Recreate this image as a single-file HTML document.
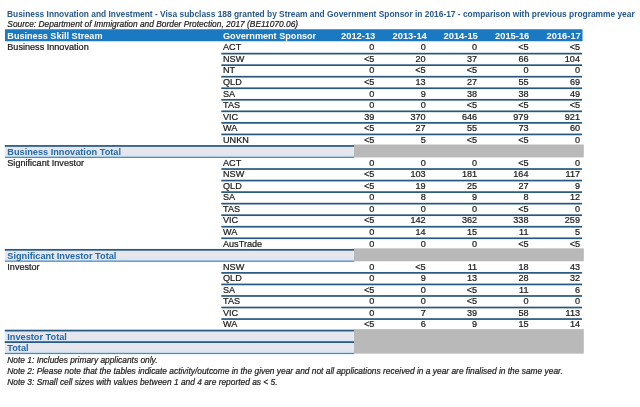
<!DOCTYPE html>
<html lang="en"><head><meta charset="utf-8"><title>Visa subclass 188 table</title>
<style>
html,body{margin:0;padding:0;background:#fff;}
body{width:640px;height:407px;position:relative;overflow:hidden;font-family:"Liberation Sans",Arial,sans-serif;color:#1a1a1a;}
.a{position:absolute;white-space:nowrap;line-height:12px;height:12px;}
.title{left:7px;top:7.5px;font-size:8.38px;font-weight:bold;color:#27588f;}
.src{left:7.3px;top:17.85px;font-size:8.38px;font-style:italic;color:#1a1a1a;-webkit-text-stroke:0.2px #1a1a1a;}
.note{left:7.3px;font-size:8.38px;font-style:italic;color:#1a1a1a;-webkit-text-stroke:0.2px #1a1a1a;}
.hdr{position:absolute;left:5px;top:30px;width:577.5px;height:11.6px;background:#1b75bb;}
.ht{font-size:9.12px;font-weight:bold;color:#fff;}
.c{font-size:9.1px;color:#1a1a1a;-webkit-text-stroke:0.22px #1a1a1a;}
.n{font-size:9.1px;color:#1a1a1a;text-align:right;width:50px;-webkit-text-stroke:0.22px #1a1a1a;}
.ln{position:absolute;height:1.5px;background:#2b5f86;left:221.3px;width:360.7px;}
.tr{position:absolute;left:5px;width:349px;background:#e4e9f1;border-top:1.5px solid #2b5f86;box-sizing:border-box;}
.tt{font-size:9.2px;font-weight:bold;color:#2469a8;}
.g{position:absolute;left:354px;width:229.8px;background:#b9b9b9;}
</style></head><body>
<div class="a title">Business Innovation and Investment - Visa subclass 188 granted by Stream and Government Sponsor in 2016-17 - comparison with previous programme year</div>
<div class="a src">Source: Department of Immigration and Border Protection, 2017 (BE11070.06)</div>

<svg width="640" height="407" viewBox="0 0 640 407" style="position:absolute;left:0;top:0"><defs><linearGradient id="tg" x1="0" y1="0" x2="0" y2="1"><stop offset="0" stop-color="#d9e7f6"/><stop offset="0.5" stop-color="#ebe6ea"/><stop offset="1" stop-color="#d9e7f6"/></linearGradient></defs><rect x="5" y="29.25" width="577.5" height="12" fill="#1a79c1"/><rect x="221.3" y="52.78" width="360.7" height="1.7" fill="#26587f"/><rect x="221.3" y="64.32" width="360.7" height="1.7" fill="#26587f"/><rect x="221.3" y="75.86" width="360.7" height="1.7" fill="#26587f"/><rect x="221.3" y="87.40" width="360.7" height="1.7" fill="#26587f"/><rect x="221.3" y="98.94" width="360.7" height="1.7" fill="#26587f"/><rect x="221.3" y="110.48" width="360.7" height="1.7" fill="#26587f"/><rect x="221.3" y="122.02" width="360.7" height="1.7" fill="#26587f"/><rect x="221.3" y="133.56" width="360.7" height="1.7" fill="#26587f"/><rect x="4.8" y="145.10" width="349.5" height="11.54" fill="url(#tg)"/><rect x="4.8" y="145.10" width="349.5" height="1.7" fill="#26587f"/><rect x="4.8" y="156.64" width="349.5" height="1.3" fill="#4a88bd"/><rect x="221.3" y="168.18" width="360.7" height="1.7" fill="#26587f"/><rect x="221.3" y="179.72" width="360.7" height="1.7" fill="#26587f"/><rect x="221.3" y="191.26" width="360.7" height="1.7" fill="#26587f"/><rect x="221.3" y="202.80" width="360.7" height="1.7" fill="#26587f"/><rect x="221.3" y="214.34" width="360.7" height="1.7" fill="#26587f"/><rect x="221.3" y="225.88" width="360.7" height="1.7" fill="#26587f"/><rect x="221.3" y="237.42" width="360.7" height="1.7" fill="#26587f"/><rect x="4.8" y="248.96" width="349.5" height="11.54" fill="url(#tg)"/><rect x="4.8" y="248.96" width="349.5" height="1.7" fill="#26587f"/><rect x="4.8" y="260.50" width="349.5" height="1.3" fill="#4a88bd"/><rect x="221.3" y="272.04" width="360.7" height="1.7" fill="#26587f"/><rect x="221.3" y="283.58" width="360.7" height="1.7" fill="#26587f"/><rect x="221.3" y="295.12" width="360.7" height="1.7" fill="#26587f"/><rect x="221.3" y="306.66" width="360.7" height="1.7" fill="#26587f"/><rect x="221.3" y="318.20" width="360.7" height="1.7" fill="#26587f"/><rect x="4.8" y="329.74" width="349.5" height="11.54" fill="url(#tg)"/><rect x="4.8" y="329.74" width="349.5" height="1.7" fill="#26587f"/><rect x="4.8" y="341.28" width="349.5" height="1.3" fill="#4a88bd"/><rect x="4.8" y="341.28" width="349.5" height="11.54" fill="url(#tg)"/><rect x="4.8" y="341.28" width="349.5" height="1.7" fill="#26587f"/><rect x="4.8" y="352.82" width="349.5" height="1.3" fill="#4a88bd"/><rect x="354" y="144.50" width="229.8" height="12.94" fill="#b9b9b9"/><rect x="354" y="248.36" width="229.8" height="12.94" fill="#b9b9b9"/><rect x="354" y="329.14" width="229.8" height="24.48" fill="#b9b9b9"/></svg>
<div class="a ht" style="left:7.3px;top:29.80px">Business Skill Stream</div>
<div class="a ht" style="left:223px;top:29.80px">Government Sponsor</div>
<div class="a ht" style="font-size:9.35px;left:325.30px;width:50px;text-align:right;top:29.80px">2012-13</div>
<div class="a ht" style="font-size:9.35px;left:376.80px;width:50px;text-align:right;top:29.80px">2013-14</div>
<div class="a ht" style="font-size:9.35px;left:427.80px;width:50px;text-align:right;top:29.80px">2014-15</div>
<div class="a ht" style="font-size:9.35px;left:479.30px;width:50px;text-align:right;top:29.80px">2015-16</div>
<div class="a ht" style="font-size:9.35px;left:530.80px;width:50px;text-align:right;top:29.80px">2016-17</div>
<div class="a c" style="left:7.3px;top:41.34px">Business Innovation</div>
<div class="a c" style="left:223px;top:41.34px">ACT</div>
<div class="a n" style="left:324.30px;top:41.34px">0</div>
<div class="a n" style="left:375.70px;top:41.34px">0</div>
<div class="a n" style="left:427.10px;top:41.34px">0</div>
<div class="a n" style="left:478.50px;top:41.34px">&lt;5</div>
<div class="a n" style="left:530.00px;top:41.34px">&lt;5</div>
<div class="a c" style="left:223px;top:52.88px">NSW</div>
<div class="a n" style="left:324.30px;top:52.88px">&lt;5</div>
<div class="a n" style="left:375.70px;top:52.88px">20</div>
<div class="a n" style="left:427.10px;top:52.88px">37</div>
<div class="a n" style="left:478.50px;top:52.88px">66</div>
<div class="a n" style="left:530.00px;top:52.88px">104</div>
<div class="a c" style="left:223px;top:64.42px">NT</div>
<div class="a n" style="left:324.30px;top:64.42px">0</div>
<div class="a n" style="left:375.70px;top:64.42px">&lt;5</div>
<div class="a n" style="left:427.10px;top:64.42px">&lt;5</div>
<div class="a n" style="left:478.50px;top:64.42px">0</div>
<div class="a n" style="left:530.00px;top:64.42px">0</div>
<div class="a c" style="left:223px;top:75.96px">QLD</div>
<div class="a n" style="left:324.30px;top:75.96px">&lt;5</div>
<div class="a n" style="left:375.70px;top:75.96px">13</div>
<div class="a n" style="left:427.10px;top:75.96px">27</div>
<div class="a n" style="left:478.50px;top:75.96px">55</div>
<div class="a n" style="left:530.00px;top:75.96px">69</div>
<div class="a c" style="left:223px;top:87.50px">SA</div>
<div class="a n" style="left:324.30px;top:87.50px">0</div>
<div class="a n" style="left:375.70px;top:87.50px">9</div>
<div class="a n" style="left:427.10px;top:87.50px">38</div>
<div class="a n" style="left:478.50px;top:87.50px">38</div>
<div class="a n" style="left:530.00px;top:87.50px">49</div>
<div class="a c" style="left:223px;top:99.04px">TAS</div>
<div class="a n" style="left:324.30px;top:99.04px">0</div>
<div class="a n" style="left:375.70px;top:99.04px">0</div>
<div class="a n" style="left:427.10px;top:99.04px">&lt;5</div>
<div class="a n" style="left:478.50px;top:99.04px">&lt;5</div>
<div class="a n" style="left:530.00px;top:99.04px">&lt;5</div>
<div class="a c" style="left:223px;top:110.58px">VIC</div>
<div class="a n" style="left:324.30px;top:110.58px">39</div>
<div class="a n" style="left:375.70px;top:110.58px">370</div>
<div class="a n" style="left:427.10px;top:110.58px">646</div>
<div class="a n" style="left:478.50px;top:110.58px">979</div>
<div class="a n" style="left:530.00px;top:110.58px">921</div>
<div class="a c" style="left:223px;top:122.12px">WA</div>
<div class="a n" style="left:324.30px;top:122.12px">&lt;5</div>
<div class="a n" style="left:375.70px;top:122.12px">27</div>
<div class="a n" style="left:427.10px;top:122.12px">55</div>
<div class="a n" style="left:478.50px;top:122.12px">73</div>
<div class="a n" style="left:530.00px;top:122.12px">60</div>
<div class="a c" style="left:223px;top:133.66px">UNKN</div>
<div class="a n" style="left:324.30px;top:133.66px">&lt;5</div>
<div class="a n" style="left:375.70px;top:133.66px">5</div>
<div class="a n" style="left:427.10px;top:133.66px">&lt;5</div>
<div class="a n" style="left:478.50px;top:133.66px">&lt;5</div>
<div class="a n" style="left:530.00px;top:133.66px">0</div>
<div class="a tt" style="left:7.3px;top:145.90px">Business Innovation Total</div>
<div class="a c" style="left:7.3px;top:156.74px">Significant Investor</div>
<div class="a c" style="left:223px;top:156.74px">ACT</div>
<div class="a n" style="left:324.30px;top:156.74px">0</div>
<div class="a n" style="left:375.70px;top:156.74px">0</div>
<div class="a n" style="left:427.10px;top:156.74px">0</div>
<div class="a n" style="left:478.50px;top:156.74px">&lt;5</div>
<div class="a n" style="left:530.00px;top:156.74px">0</div>
<div class="a c" style="left:223px;top:168.28px">NSW</div>
<div class="a n" style="left:324.30px;top:168.28px">&lt;5</div>
<div class="a n" style="left:375.70px;top:168.28px">103</div>
<div class="a n" style="left:427.10px;top:168.28px">181</div>
<div class="a n" style="left:478.50px;top:168.28px">164</div>
<div class="a n" style="left:530.00px;top:168.28px">117</div>
<div class="a c" style="left:223px;top:179.82px">QLD</div>
<div class="a n" style="left:324.30px;top:179.82px">&lt;5</div>
<div class="a n" style="left:375.70px;top:179.82px">19</div>
<div class="a n" style="left:427.10px;top:179.82px">25</div>
<div class="a n" style="left:478.50px;top:179.82px">27</div>
<div class="a n" style="left:530.00px;top:179.82px">9</div>
<div class="a c" style="left:223px;top:191.36px">SA</div>
<div class="a n" style="left:324.30px;top:191.36px">0</div>
<div class="a n" style="left:375.70px;top:191.36px">8</div>
<div class="a n" style="left:427.10px;top:191.36px">9</div>
<div class="a n" style="left:478.50px;top:191.36px">8</div>
<div class="a n" style="left:530.00px;top:191.36px">12</div>
<div class="a c" style="left:223px;top:202.90px">TAS</div>
<div class="a n" style="left:324.30px;top:202.90px">0</div>
<div class="a n" style="left:375.70px;top:202.90px">0</div>
<div class="a n" style="left:427.10px;top:202.90px">0</div>
<div class="a n" style="left:478.50px;top:202.90px">&lt;5</div>
<div class="a n" style="left:530.00px;top:202.90px">0</div>
<div class="a c" style="left:223px;top:214.44px">VIC</div>
<div class="a n" style="left:324.30px;top:214.44px">&lt;5</div>
<div class="a n" style="left:375.70px;top:214.44px">142</div>
<div class="a n" style="left:427.10px;top:214.44px">362</div>
<div class="a n" style="left:478.50px;top:214.44px">338</div>
<div class="a n" style="left:530.00px;top:214.44px">259</div>
<div class="a c" style="left:223px;top:225.98px">WA</div>
<div class="a n" style="left:324.30px;top:225.98px">0</div>
<div class="a n" style="left:375.70px;top:225.98px">14</div>
<div class="a n" style="left:427.10px;top:225.98px">15</div>
<div class="a n" style="left:478.50px;top:225.98px">11</div>
<div class="a n" style="left:530.00px;top:225.98px">5</div>
<div class="a c" style="left:223px;top:237.52px">AusTrade</div>
<div class="a n" style="left:324.30px;top:237.52px">0</div>
<div class="a n" style="left:375.70px;top:237.52px">0</div>
<div class="a n" style="left:427.10px;top:237.52px">0</div>
<div class="a n" style="left:478.50px;top:237.52px">&lt;5</div>
<div class="a n" style="left:530.00px;top:237.52px">&lt;5</div>
<div class="a tt" style="left:7.3px;top:249.76px">Significant Investor Total</div>
<div class="a c" style="left:7.3px;top:260.60px">Investor</div>
<div class="a c" style="left:223px;top:260.60px">NSW</div>
<div class="a n" style="left:324.30px;top:260.60px">0</div>
<div class="a n" style="left:375.70px;top:260.60px">&lt;5</div>
<div class="a n" style="left:427.10px;top:260.60px">11</div>
<div class="a n" style="left:478.50px;top:260.60px">18</div>
<div class="a n" style="left:530.00px;top:260.60px">43</div>
<div class="a c" style="left:223px;top:272.14px">QLD</div>
<div class="a n" style="left:324.30px;top:272.14px">0</div>
<div class="a n" style="left:375.70px;top:272.14px">9</div>
<div class="a n" style="left:427.10px;top:272.14px">13</div>
<div class="a n" style="left:478.50px;top:272.14px">28</div>
<div class="a n" style="left:530.00px;top:272.14px">32</div>
<div class="a c" style="left:223px;top:283.68px">SA</div>
<div class="a n" style="left:324.30px;top:283.68px">&lt;5</div>
<div class="a n" style="left:375.70px;top:283.68px">0</div>
<div class="a n" style="left:427.10px;top:283.68px">&lt;5</div>
<div class="a n" style="left:478.50px;top:283.68px">11</div>
<div class="a n" style="left:530.00px;top:283.68px">6</div>
<div class="a c" style="left:223px;top:295.22px">TAS</div>
<div class="a n" style="left:324.30px;top:295.22px">0</div>
<div class="a n" style="left:375.70px;top:295.22px">0</div>
<div class="a n" style="left:427.10px;top:295.22px">&lt;5</div>
<div class="a n" style="left:478.50px;top:295.22px">0</div>
<div class="a n" style="left:530.00px;top:295.22px">0</div>
<div class="a c" style="left:223px;top:306.76px">VIC</div>
<div class="a n" style="left:324.30px;top:306.76px">0</div>
<div class="a n" style="left:375.70px;top:306.76px">7</div>
<div class="a n" style="left:427.10px;top:306.76px">39</div>
<div class="a n" style="left:478.50px;top:306.76px">58</div>
<div class="a n" style="left:530.00px;top:306.76px">113</div>
<div class="a c" style="left:223px;top:318.30px">WA</div>
<div class="a n" style="left:324.30px;top:318.30px">&lt;5</div>
<div class="a n" style="left:375.70px;top:318.30px">6</div>
<div class="a n" style="left:427.10px;top:318.30px">9</div>
<div class="a n" style="left:478.50px;top:318.30px">15</div>
<div class="a n" style="left:530.00px;top:318.30px">14</div>
<div class="a tt" style="left:7.3px;top:330.54px">Investor Total</div>
<div class="a tt" style="left:7.3px;top:342.08px">Total</div>
<div class="a note" style="top:353.90px">Note 1: Includes primary applicants only.</div>
<div class="a note" style="top:364.90px">Note 2: Please note that the tables indicate activity/outcome in the given year and not all applications received in a year are finalised in the same year.</div>
<div class="a note" style="top:375.90px">Note 3: Small cell sizes with values between 1 and 4 are reported as &lt; 5.</div>
</body></html>
